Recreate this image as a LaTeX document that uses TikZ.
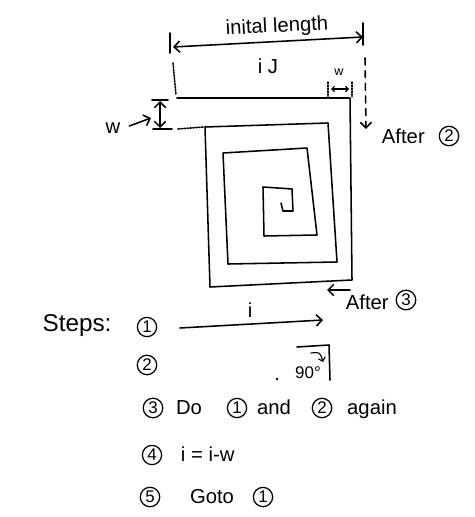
\documentclass[tikz,border=0pt]{standalone}
\usepackage{fontspec}
\setmainfont{Liberation Sans}
\usetikzlibrary{arrows.meta}
\tikzset{%
  pen/.style      = {line width=1.1pt, line join=round, line cap=round},%
  guide/.style    = {pen, densely dotted},%
  dashline/.style = {pen, dash pattern=on 5pt off 4pt},%
  num/.style      = {circle, draw, line width=0.9pt, inner sep=1.1pt, font=\large},%
  tiny/.style     = {font=\small}%
}

\begin{document}
\begin{tikzpicture}[x=0.025cm, y=-0.025cm,%
    >={Straight Barb[length=4pt,width=8pt]},%
    every node/.style={font=\Large}]%
	\useasboundingbox (0,0) rectangle (474,517);
	% initial length on top
	\coordinate (lenL) at (173,47);
	\coordinate (lenR) at (363,37);
	\coordinate (tickLa) at (170,33);  \coordinate (tickLb) at (170,53);
	\coordinate (tickRa) at (363,23);  \coordinate (tickRb) at (363,45);
	\draw[pen] (tickLa) -- (tickLb);%
	\draw[pen] (tickRa) -- (tickRb);%
	\draw[pen,<->] (lenL) -- (lenR);%
	\node (lenlabel) [rotate=3] at (277,27) {inital length};%
	\node (ilabel) at (268,66) {i J};%
	\coordinate (dotLa) at (173,63);   \coordinate (dotLb) at (176,95);
	\draw[guide] (dotLa) -- (dotLb);%
	\coordinate (dashRa) at (365,58);  \coordinate (dashRb) at (366,129);
	\draw[dashline,->] (dashRa) -- (dashRb);%
	% small width at top right
	\coordinate (wa1) at (328,82);  \coordinate (wa2) at (328,97);
	\coordinate (wb1) at (352,82);  \coordinate (wb2) at (352,97);
	\draw[guide,line width=0.8pt] (wa1) -- (wa2);%
	\draw[guide,line width=0.8pt] (wb1) -- (wb2);%
	\draw[pen,line width=0.8pt,<->,>={Straight Barb[length=2pt,width=4pt]}] (331,89) -- (349,89);%
	\node (wtop) [tiny] at (339,72) {w};%
	% width on the left
	\coordinate (wtop1) at (152,100);  \coordinate (wtop2) at (168,100);
	\coordinate (wbot1) at (153,129);  \coordinate (wbot2) at (172,129);
	\draw[pen] (wtop1) -- (wtop2);%
	\draw[pen] (wbot1) -- (wbot2);%
	\draw[pen,<->] (160,101) -- (160,128);%
	\draw[guide] (178,129) -- (203,127);%
	\node (wleft) at (113,128) {w};%
	\draw[pen,->] (wleft.east) ++(4,-2) -- (151,118);%
	% the spiral
	\draw[pen] (177,98) -- (350,98) -- (352,280) -- (210,287) -- (205,127)%
		-- (328,123) -- (337,262) -- (228,264) -- (223,153)%
		-- (307,148) -- (317,235) -- (264,236) -- (263,187)%
		-- (292,189) -- (293,211) -- (283,211) -- (281,203);
	% after labels
	\node (after2) [anchor=west] at (377,136) {After};%
	\node (n2a) [num] at (449,136) {2};%
	\coordinate (arrA) at (350,290);   \coordinate (arrB) at (327,290);
	\draw[pen,->] (arrA) -- (arrB);%
	\node (after3) [anchor=west] at (341,302) {After};%
	\node (n3a) [num] at (406,300) {3};%
	% steps
	\node (steps) [font=\LARGE] at (77,326) {Steps:};%
	\node (s1) [num] at (147,327) {1};%
	\coordinate (i0) at (180,328);     \coordinate (i1) at (323,320);
	\draw[pen,->] (i0) -- (i1);%
	\node (ione) at (250,310) {i};%
	\node (s2) [num] at (147,365) {2};%
	\coordinate (c0) at (297,347);  \coordinate (c1) at (329,345);  \coordinate (c2) at (330,380);
	\draw[pen] (c0) -- (c1) -- (c2);%
	\draw[pen,line width=0.8pt,->,>={Straight Barb[length=2.5pt,width=5pt]}] (311,353) .. controls (320,352) .. (323,362);%
	\node (deg) [font=\large] at (308,373) {90°};%
	\fill (277,379) circle (1.3);%
	\node (s3) [num] at (153,408) {3};%
	\node (do) at (189,408) {Do};%
	\node (r1) [num] at (237,408) {1};%
	\node (and) at (274,407) {and};%
	\node (r2) [num] at (322,408) {2};%
	\node (again) at (372,409) {again};%
	\node (s4) [num] at (152,455) {4};%
	\node (upd) [anchor=west] at (176,454) {i = i-w};%
	\node (s5) [num] at (150,497) {5};%
	\node (goto) at (212,497) {Goto};%
	\node (r3) [num] at (263,497) {1};%
\end{tikzpicture}
\end{document}
